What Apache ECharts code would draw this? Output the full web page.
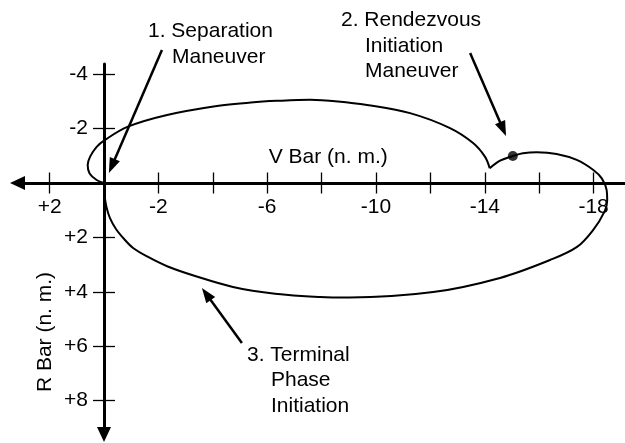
<!DOCTYPE html>
<html>
<head>
<meta charset="utf-8">
<script src="https://cdn.jsdelivr.net/npm/echarts/dist/echarts.min.js"></script>
<style>
  html, body { margin: 0; padding: 0; background: #fff; }
  #chart { width: 625px; height: 443px; }
</style>
</head>
<body>
<div id="chart"></div>
<script>
var FONT = '"Liberation Sans", Arial, Helvetica, sans-serif';
var FS = 21;

// trajectory, [V bar, R bar] in n. m. (V positive to the left, R positive down)
var outboundArc = [
  [0, 0], [0.27, -0.11], [0.53, -0.35], [0.60, -0.66], [0.51, -0.97], [0.27, -1.33],
  [0, -1.56], [-0.88, -2.07], [-2.32, -2.50], [-4.15, -2.83], [-5.40, -2.96],
  [-6.36, -3.02], [-7.57, -3.06], [-8.60, -3.00], [-9.67, -2.87], [-11.25, -2.57],
  [-12.72, -2.02], [-13.57, -1.47], [-14.01, -0.96], [-14.18, -0.54]
];
var returnArc = [
  [-14.18, -0.54], [-14.56, -0.82], [-15.03, -0.99], [-15.40, -1.09], [-15.91, -1.13],
  [-16.64, -1.07], [-17.38, -0.85], [-17.99, -0.48], [-18.30, -0.17], [-18.48, 0.26],
  [-18.50, 0.63], [-18.40, 1.05], [-17.98, 1.73], [-17.39, 2.35], [-16.40, 2.83],
  [-14.56, 3.49], [-12.10, 4.01], [-9.04, 4.21], [-7.94, 4.19], [-6.29, 4.07],
  [-4.74, 3.82], [-3.35, 3.42], [-2.32, 3.06], [-1.62, 2.72], [-1.07, 2.39],
  [-0.74, 2.06], [-0.44, 1.69], [-0.22, 1.29], [-0.09, 0.88], [-0.02, 0.44], [0, 0]
];
var riManeuver = [[-15.03, -0.99]];

var vTicks = [2, -2, -4, -6, -8, -10, -12, -14, -16, -18];
var vLabels = [2, -2, -6, -10, -14, -18];
var rTicks = [-4, -2, 2, 4, 6, 8];
var rLabels = [-4, -2, 2, 4, 6, 8];

// annotation pointers: tail -> tip, in the same units
var arrowTails = [[-2.13, -4.89], [-13.46, -4.78], [-5.07, 5.88]];
var arrowTips = [[-0.18, -0.37], [-14.78, -1.73], [-3.60, 3.86]];

var noteLines = [
  { text: '1. Separation', x: 148, y: 31 },
  { text: 'Maneuver', x: 172, y: 57 },
  { text: '2. Rendezvous', x: 341, y: 20 },
  { text: 'Initiation', x: 365, y: 46 },
  { text: 'Maneuver', x: 365, y: 71 },
  { text: '3. Terminal', x: 247, y: 355 },
  { text: 'Phase', x: 271, y: 380 },
  { text: 'Initiation', x: 271, y: 406 }
];

function signed(v) {
  return v > 0 ? '+' + v : String(v);
}

var chart = echarts.init(document.getElementById('chart'));

var V_MIN = -19.154, V_MAX = 3.18;
var R_MIN = -4.375, R_MAX = 9.246;

// grid box: x 17.5..625, y 64..434.5; axes cross at (104, 183)
var option = {
  animation: false,
  backgroundColor: '#fff',
  grid: { left: 17.5, right: 0, top: 64, bottom: 8.5, containLabel: false, outerBoundsMode: 'none' },
  xAxis: [
    {
      type: 'value', inverse: true, min: V_MIN, max: V_MAX, position: 'bottom', offset: -251.5,
      axisLine: {
        onZero: false, symbol: ['triangle', 'none'], symbolSize: [14, 15],
        lineStyle: { color: '#000', width: 3 }
      },
      axisTick: { show: true, length: 10.5, customValues: vTicks, lineStyle: { color: '#000', width: 1.3 } },
      axisLabel: {
        customValues: vLabels, formatter: signed, margin: 14,
        color: '#000', fontSize: FS, fontFamily: FONT
      },
      splitLine: { show: false }
    },
    {
      type: 'value', inverse: true, min: V_MIN, max: V_MAX, position: 'top', offset: -119,
      name: 'V Bar (n. m.)', nameLocation: 'middle', nameGap: 15,
      nameTextStyle: { color: '#000', fontSize: FS, fontFamily: FONT, padding: [0, 0, 0, 14] },
      axisLine: { show: false, onZero: false },
      axisTick: { show: true, length: 10.5, customValues: vTicks, lineStyle: { color: '#000', width: 1.3 } },
      axisLabel: { show: false },
      splitLine: { show: false }
    }
  ],
  yAxis: [
    {
      type: 'value', inverse: true, min: R_MIN, max: R_MAX, position: 'left', offset: -86.5,
      axisLine: {
        onZero: false, symbol: ['triangle', 'none'], symbolSize: [14, 15],
        lineStyle: { color: '#000', width: 3 }
      },
      axisTick: { show: true, length: 11, customValues: rTicks, lineStyle: { color: '#000', width: 1.3 } },
      axisLabel: {
        customValues: rLabels, formatter: signed, margin: 16,
        color: '#000', fontSize: FS, fontFamily: FONT
      },
      splitLine: { show: false }
    },
    {
      type: 'value', inverse: true, min: R_MIN, max: R_MAX, position: 'right', offset: -521,
      axisLine: { show: false, onZero: false },
      axisTick: { show: true, length: 11, customValues: rTicks, lineStyle: { color: '#000', width: 1.3 } },
      axisLabel: { show: false },
      splitLine: { show: false }
    }
  ],
  series: [
    {
      type: 'line', data: outboundArc, smooth: 0.35, showSymbol: false, clip: false,
      lineStyle: { color: '#000', width: 2 }
    },
    {
      type: 'line', data: returnArc, smooth: 0.35, showSymbol: false, clip: false,
      lineStyle: { color: '#000', width: 2 }
    },
    {
      type: 'scatter', data: riManeuver, symbolSize: 10, z: 5,
      itemStyle: { color: '#000' }
    }
  ]
};

chart.setOption(option);

// pointers and notes
function arrowParts(tail, tip) {
  var a = chart.convertToPixel({ seriesIndex: 0 }, tail);
  var b = chart.convertToPixel({ seriesIndex: 0 }, tip);
  var dx = b[0] - a[0], dy = b[1] - a[1];
  var len = Math.sqrt(dx * dx + dy * dy);
  var ux = dx / len, uy = dy / len;
  var nx = -uy, ny = ux;
  var hl = 15, hw = 5.5;
  var bx = b[0] - ux * hl, by = b[1] - uy * hl;
  return [
    {
      type: 'line', silent: true,
      shape: { x1: a[0], y1: a[1], x2: bx + ux * 2, y2: by + uy * 2 },
      style: { stroke: '#000', lineWidth: 2.5 }
    },
    {
      type: 'polygon', silent: true,
      shape: { points: [[b[0], b[1]], [bx + nx * hw, by + ny * hw], [bx - nx * hw, by - ny * hw]] },
      style: { fill: '#000' }
    }
  ];
}

var graphics = [];
arrowTails.forEach(function (t, i) {
  graphics = graphics.concat(arrowParts(t, arrowTips[i]));
});
noteLines.forEach(function (n) {
  graphics.push({
    type: 'text', silent: true, x: n.x, y: n.y,
    style: {
      text: n.text, fill: '#000', fontSize: FS, fontFamily: FONT,
      align: 'left', verticalAlign: 'middle'
    }
  });
});
graphics.push({
  type: 'text', silent: true, x: 45, y: 332, rotation: Math.PI / 2,
  style: {
    text: 'R Bar (n. m.)', fill: '#000', fontSize: FS, fontFamily: FONT,
    align: 'center', verticalAlign: 'middle'
  }
});

chart.setOption({ graphic: graphics });
</script>
</body>
</html>
